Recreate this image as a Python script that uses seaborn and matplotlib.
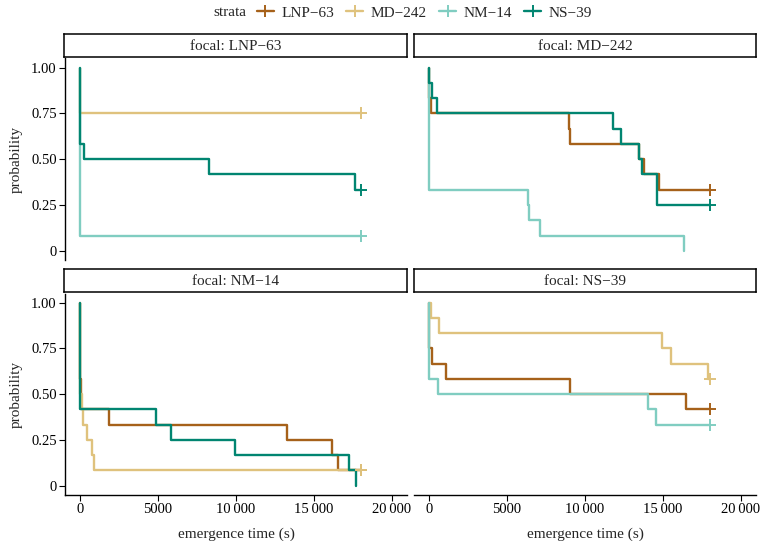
import matplotlib
matplotlib.use("Agg")
import matplotlib.pyplot as plt
from matplotlib.lines import Line2D
from matplotlib.ticker import FuncFormatter
import seaborn as sns
import pandas as pd

sns.set_theme(style="white")
plt.rcParams['font.family'] = ['Liberation Serif', 'DejaVu Serif']

strata = ["LNP\u221263", "MD\u2212242", "NM\u221214", "NS\u221239"]
colors = ["#A6611A", "#DFC27D", "#80CDC1", "#018571"]

# focal: LNP-63
lnp_md_t = [0, 0, 18000]
lnp_md_p = [1, 0.75, 0.75]
lnp_nm_t = [0, 0, 18000]
lnp_nm_p = [1, 0.083, 0.083]
lnp_ns_t = [0, 30, 275, 8270, 17630, 18000]
lnp_ns_p = [1, 0.583, 0.5, 0.417, 0.333, 0.333]

# focal: MD-242
md_lnp_t = [0, 30, 150, 8990, 9050, 13440, 13750, 14760, 18000]
md_lnp_p = [1, 0.833, 0.75, 0.667, 0.583, 0.5, 0.417, 0.333, 0.333]
md_nm_t = [0, 0, 6330, 6400, 7120, 16350]
md_nm_p = [1, 0.333, 0.25, 0.167, 0.083, 0]
md_ns_t = [0, 20, 210, 490, 11810, 12310, 13440, 13650, 14620, 18000]
md_ns_p = [1, 0.917, 0.833, 0.75, 0.667, 0.583, 0.5, 0.417, 0.25, 0.25]

# focal: NM-14
nm_lnp_t = [0, 0, 60, 1860, 13250, 16170, 16560, 18000]
nm_lnp_p = [1, 0.583, 0.417, 0.333, 0.25, 0.167, 0.083, 0.083]
nm_md_t = [0, 0, 130, 210, 430, 790, 920, 18000]
nm_md_p = [1, 0.5, 0.417, 0.333, 0.25, 0.167, 0.083, 0.083]
nm_ns_t = [0, 0, 4890, 5810, 9940, 17260, 17690]
nm_ns_p = [1, 0.417, 0.333, 0.25, 0.167, 0.083, 0]

# focal: NS-39
ns_lnp_t = [0, 0, 170, 1070, 9040, 16450, 18000]
ns_lnp_p = [1, 0.75, 0.667, 0.583, 0.5, 0.417, 0.417]
ns_md_t = [0, 100, 660, 14910, 15490, 17900, 18000]
ns_md_p = [1, 0.917, 0.833, 0.75, 0.667, 0.583, 0.583]
ns_nm_t = [0, 30, 600, 14060, 14550, 18000]
ns_nm_p = [1, 0.583, 0.5, 0.417, 0.333, 0.333]

panels = [
    ("LNP\u221263", [(strata[1], lnp_md_t, lnp_md_p), (strata[2], lnp_nm_t, lnp_nm_p), (strata[3], lnp_ns_t, lnp_ns_p)]),
    ("MD\u2212242", [(strata[0], md_lnp_t, md_lnp_p), (strata[2], md_nm_t, md_nm_p), (strata[3], md_ns_t, md_ns_p)]),
    ("NM\u221214", [(strata[0], nm_lnp_t, nm_lnp_p), (strata[1], nm_md_t, nm_md_p), (strata[3], nm_ns_t, nm_ns_p)]),
    ("NS\u221239", [(strata[0], ns_lnp_t, ns_lnp_p), (strata[1], ns_md_t, ns_md_p), (strata[2], ns_nm_t, ns_nm_p)]),
]

pal = dict(zip(strata, colors))

W, H = 761, 541
fig = plt.figure(figsize=(W / 100, H / 100), dpi=100)

def fx(px):
    return px / W

def fy(px):
    return 1 - px / H

# panel boxes in pixels (left, top, right, bottom)
boxes = [(65, 58.5, 407, 260), (414, 58.5, 756, 260),
         (65, 293.5, 407, 494.7), (414, 293.5, 756, 494.7)]
strips = [(64, 34, 407, 57), (414, 34, 756, 57),
          (64, 269, 407, 292), (414, 269, 756, 292)]


def xfmt(v, pos):
    v = int(round(v))
    if v >= 10000:
        return "%d\u2009%03d" % (v // 1000, v % 1000)
    return "%d" % v


def yfmt(v, pos):
    return "0" if abs(v) < 1e-9 else "%.2f" % v


for i, (focal, curves) in enumerate(panels):
    l, t, r, b = boxes[i]
    ax = fig.add_axes([fx(l), fy(b), fx(r - l), (b - t) / H])
    rows = []
    ends = []
    for name, tt, pp in curves:
        for a, c in zip(tt, pp):
            rows.append({"time": a, "prob": c, "strata": name})
        if pp[-1] > 0:
            ends.append({"time": tt[-1], "prob": pp[-1], "strata": name})
    df = pd.DataFrame(rows)
    dfe = pd.DataFrame(ends)
    order = [s for s in strata if s in set(df["strata"])]
    for s in order:
        sns.lineplot(data=df[df["strata"] == s], x="time", y="prob", color=pal[s],
                     estimator=None, sort=False, drawstyle="steps-post",
                     linewidth=1.7, ax=ax, legend=False)
        sub = dfe[dfe["strata"] == s] if len(dfe) else dfe
        if len(sub):
            ax.scatter(sub["time"], sub["prob"], marker="+", s=70,
                       color=pal[s], linewidths=1.4, zorder=3)
    ax.set_xlim(-962, 20960)
    ax.set_ylim(-0.05, 1.05)
    ax.set_xticks([0, 5000, 10000, 15000, 20000])
    ax.set_yticks([0, 0.25, 0.5, 0.75, 1.0])
    ax.xaxis.set_major_formatter(FuncFormatter(xfmt))
    ax.yaxis.set_major_formatter(FuncFormatter(yfmt))
    for sp in ax.spines.values():
        sp.set_visible(False)
        sp.set_color("black")
        sp.set_linewidth(1.0)
    left = i % 2 == 0
    bottom = i >= 2
    ax.tick_params(axis="both", direction="out", length=4, width=0.8,
                   color="black", labelsize=10.5, labelcolor="black", pad=2)
    if left:
        ax.spines["left"].set_visible(True)
        ax.tick_params(axis="y", left=True, labelleft=True)
        ax.set_ylabel("probability", fontsize=11, labelpad=6)
    else:
        ax.tick_params(axis="y", left=False, labelleft=False)
        ax.set_ylabel("")
    if bottom:
        ax.spines["bottom"].set_visible(True)
        ax.tick_params(axis="x", bottom=True, labelbottom=True)
        ax.set_xlabel("emergence time (s)", fontsize=11, labelpad=8)
    else:
        ax.tick_params(axis="x", bottom=False, labelbottom=False)
        ax.set_xlabel("")

    sl, st, sr, sb = strips[i]
    sax = fig.add_axes([fx(sl), fy(sb), fx(sr - sl), (sb - st) / H])
    sax.set_xticks([])
    sax.set_yticks([])
    for sp in sax.spines.values():
        sp.set_visible(True)
        sp.set_color("black")
        sp.set_linewidth(1.1)
    sax.text(0.5, 0.45, "focal: " + focal, ha="center", va="center",
             fontsize=11, transform=sax.transAxes)

handles = [Line2D([], [], color=c, linewidth=1.7, marker="+", markersize=9,
                  markeredgewidth=1.4) for c in colors]
fig.text(fx(213), fy(13), "strata", ha="left", va="center", fontsize=11)
fig.legend(handles, strata, loc="center left", bbox_to_anchor=(fx(257), fy(13)),
           ncol=4, frameon=False, fontsize=11, handlelength=1.1,
           handletextpad=0.5, columnspacing=0.8, borderpad=0, borderaxespad=0)

fig.savefig("out.png", dpi=100)
